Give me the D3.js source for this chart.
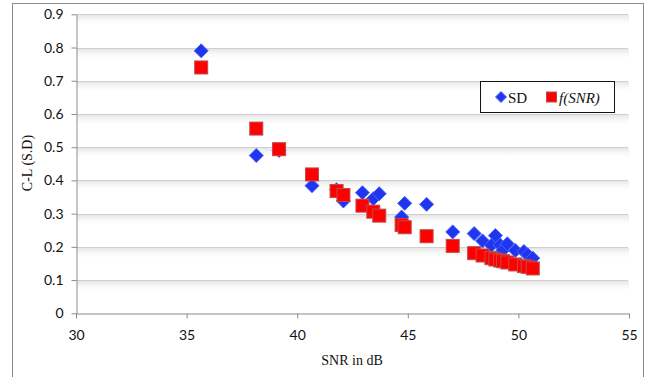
<!DOCTYPE html>
<html>
<head>
<meta charset="utf-8">
<script src="https://cdn.jsdelivr.net/npm/d3@7"></script>
<style>
  html, body { margin: 0; padding: 0; background: #fff; }
  svg { display: block; }
</style>
</head>
<body>
<svg id="chart" width="647" height="377"></svg>
<script>
// SNR (dB) of each measurement
const snr = [35.66, 38.15, 39.18, 40.67, 41.78, 42.09, 42.95, 43.44, 43.71, 44.72, 44.86, 45.85,
             47.03, 48.0, 48.38, 48.78, 48.96, 49.17, 49.3, 49.5, 49.86, 50.25, 50.42, 50.65];
// Measured standard deviation
const sdValues = [0.79, 0.475, 0.49, 0.384, 0.372, 0.338, 0.363, 0.345, 0.36, 0.29, 0.331, 0.328,
                  0.245, 0.240, 0.218, 0.205, 0.234, 0.206, 0.19, 0.209, 0.189, 0.186, 0.176, 0.166];
// Fitted curve f(SNR)
const fValues = [0.74, 0.556, 0.494, 0.418, 0.368, 0.356, 0.324, 0.306, 0.294, 0.266, 0.259, 0.232,
                 0.203, 0.181, 0.174, 0.166, 0.162, 0.159, 0.157, 0.153, 0.147, 0.142, 0.140, 0.135];
const xTicks = [30, 35, 40, 45, 50, 55];
const yTicks = [0, 0.1, 0.2, 0.3, 0.4, 0.5, 0.6, 0.7, 0.8, 0.9];

const svg = d3.select("#chart");
const tickFont = "Lato, 'Open Sans', sans-serif";
const serif = "'Liberation Serif', 'Times New Roman', serif";

// Outer frame
svg.append("rect")
  .attr("x", 12.5).attr("y", 3.5).attr("width", 631).attr("height", 390)
  .attr("fill", "#fff").attr("stroke", "#8c8c8c").attr("stroke-width", 1);

const x = d3.scaleLinear().domain([30, 55]).range([76, 629]);
const y = d3.scaleLinear().domain([0, 0.9]).range([313.3, 14.3]);

// Soft band below each gridline
const defs = svg.append("defs");
const grad = defs.append("linearGradient").attr("id", "band").attr("x1", 0).attr("y1", 0).attr("x2", 0).attr("y2", 1);
grad.append("stop").attr("offset", "0%").attr("stop-color", "#e6e6e6");
grad.append("stop").attr("offset", "100%").attr("stop-color", "#ffffff").attr("stop-opacity", 0);

const grid = svg.append("g");
yTicks.filter(v => v > 0).forEach(v => {
  grid.append("rect")
    .attr("x", x(30) + 1).attr("y", Math.round(y(v)) + 1)
    .attr("width", x(55) - x(30) - 1).attr("height", 11)
    .attr("fill", "url(#band)");
  grid.append("line")
    .attr("x1", x(30)).attr("x2", x(55) - 1)
    .attr("y1", Math.round(y(v)) + 0.5).attr("y2", Math.round(y(v)) + 0.5)
    .attr("stroke", "#cfcfcf").attr("stroke-width", 1.2);
});

// Axes
const yAxis = d3.axisLeft(y).tickValues(yTicks).tickSize(5).tickSizeOuter(0)
  .tickFormat(d => d === 0 ? "0" : d3.format(".1f")(d));
const gy = svg.append("g").attr("transform", `translate(${x(30) + 0.5},0)`).call(yAxis);
gy.select(".domain").attr("stroke", "#8c8c8c");
gy.selectAll(".tick line").attr("stroke", "#8c8c8c");
gy.selectAll(".tick text").attr("x", -13).attr("font-family", tickFont).attr("font-size", 14).attr("fill", "#111");

const xAxis = d3.axisBottom(x).tickValues(xTicks).tickSize(5).tickSizeOuter(0).tickFormat(d3.format("d"));
const gx = svg.append("g").attr("transform", `translate(0,${Math.round(y(0)) + 0.5})`).call(xAxis);
gx.select(".domain").attr("stroke", "#8c8c8c");
gx.selectAll(".tick line").attr("stroke", "#8c8c8c");
gx.selectAll(".tick text").attr("y", 17).attr("font-family", tickFont).attr("font-size", 14).attr("fill", "#111");

// Axis titles
svg.append("text").attr("x", 352).attr("y", 365).attr("text-anchor", "middle")
  .attr("font-family", serif).attr("font-size", 14).attr("fill", "#111").text("SNR in dB");
svg.append("text").attr("transform", "translate(32,163) rotate(-90)").attr("text-anchor", "middle")
  .attr("font-family", serif).attr("font-size", 14).attr("fill", "#111").text("C-L (S.D)");

// Markers
const diamond = s => `M0,${-s}L${s},0L0,${s}L${-s},0Z`;
const sdData = snr.map((v, i) => ({ x: v, y: sdValues[i] }));
const fData = snr.map((v, i) => ({ x: v, y: fValues[i] }));

svg.append("g").selectAll("path").data(sdData).join("path")
  .attr("transform", d => `translate(${x(d.x)},${y(d.y)})`)
  .attr("d", diamond(7))
  .attr("fill", "#1f35ee").attr("stroke", "#4a63ff").attr("stroke-width", 1);

svg.append("g").selectAll("rect").data(fData).join("rect")
  .attr("x", d => x(d.x) - 6.5).attr("y", d => y(d.y) - 6.5)
  .attr("width", 13).attr("height", 13)
  .attr("fill", "#ff0000").attr("stroke", "#c24a4a").attr("stroke-width", 1);

// Legend
const lg = svg.append("g");
lg.append("rect").attr("x", 480.5).attr("y", 81.5).attr("width", 134).attr("height", 31)
  .attr("fill", "#fff").attr("stroke", "#111").attr("stroke-width", 1);
lg.append("path").attr("transform", "translate(501,97)").attr("d", diamond(5.5))
  .attr("fill", "#1f35ee").attr("stroke", "#4a63ff");
lg.append("text").attr("x", 508).attr("y", 102.5).attr("font-family", serif).attr("font-size", 15)
  .attr("fill", "#111").text("SD");
lg.append("rect").attr("x", 546.5).attr("y", 92).attr("width", 10).attr("height", 10)
  .attr("fill", "#ff0000").attr("stroke", "#c24a4a");
lg.append("text").attr("x", 559).attr("y", 102.5).attr("font-family", serif).attr("font-size", 15)
  .attr("font-style", "italic").attr("fill", "#111").text("f(SNR)");
</script>
</body>
</html>
